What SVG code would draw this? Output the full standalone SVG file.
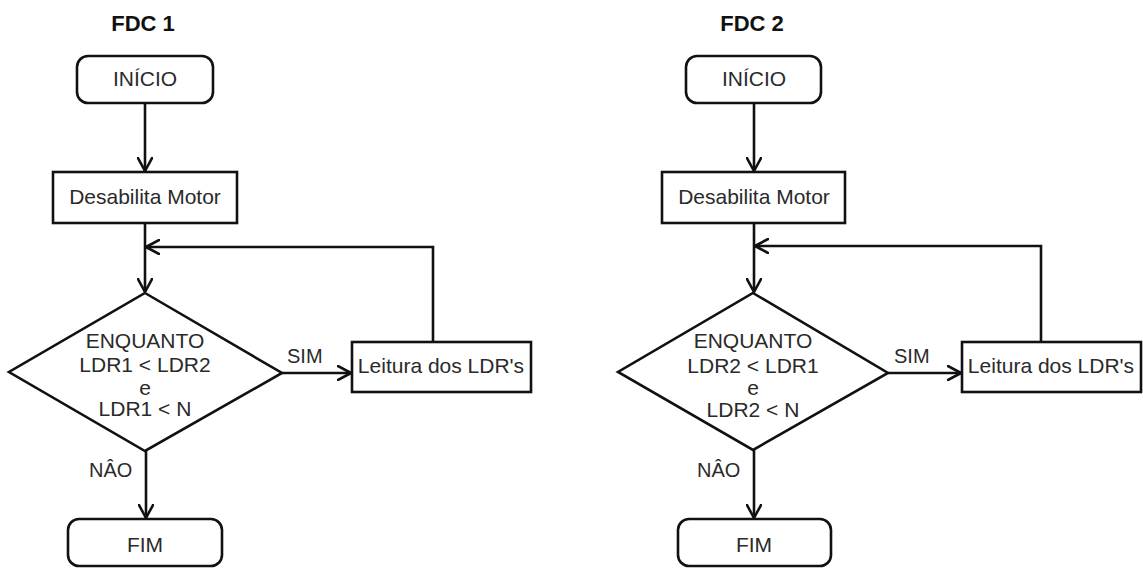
<svg xmlns="http://www.w3.org/2000/svg" width="1143" height="568" viewBox="0 0 1143 568">
  <style>
    .bg { fill: #ffffff; }
    .box { fill: #ffffff; stroke: #111; stroke-width: 2.6; }
    .edge { fill: none; stroke: #111; stroke-width: 2.6; }
    .t { font-family: "Liberation Sans", Arial, sans-serif; font-size: 21px; fill: #2a2a2a; text-anchor: middle; }
    .lbl { font-family: "Liberation Sans", Arial, sans-serif; font-size: 20px; fill: #2a2a2a; }
    .title { font-family: "Liberation Sans", Arial, sans-serif; font-size: 22px; font-weight: bold; fill: #111; text-anchor: middle; }
  </style>
  <defs>
    <marker id="arrow" markerUnits="userSpaceOnUse" viewBox="0 0 16 16" refX="14" refY="8" markerWidth="16" markerHeight="16" orient="auto">
      <path d="M1,1 L14,8 L1,15" fill="none" stroke="#111" stroke-width="2.6" stroke-linejoin="round" stroke-linecap="round"/>
    </marker>
  </defs>

  <rect class="bg" x="0" y="0" width="1143" height="568"/>

  <!-- FDC 1 -->
  <text class="title" x="143" y="31">FDC 1</text>

  <g id="connectors-fdc1">
    <path class="edge" d="M145,103 L145,171" marker-end="url(#arrow)"/>
    <path class="edge" d="M145,223 L145,292" marker-end="url(#arrow)"/>
    <path class="edge" d="M433,342 L433,247 L146,247" marker-end="url(#arrow)"/>
    <path class="edge" d="M282,373 L351,373" marker-end="url(#arrow)"/>
    <path class="edge" d="M146,451 L146,518" marker-end="url(#arrow)"/>
    <text class="lbl" x="287" y="363">SIM</text>
    <text class="lbl" x="89" y="477">NÂO</text>
  </g>

  <g id="inicio1">
    <rect class="box" x="77" y="56" width="136" height="47" rx="11"/>
    <text class="t" x="145" y="86">INÍCIO</text>
  </g>
  <g id="desabilita1">
    <rect class="box" x="53" y="172" width="184" height="51"/>
    <text class="t" x="145" y="204">Desabilita Motor</text>
  </g>
  <g id="decisao1">
    <polygon class="box" points="145,293 282,373 145,451 9,372"/>
    <text class="t" x="145" y="348">ENQUANTO</text>
    <text class="t" x="145" y="372">LDR1 &lt; LDR2</text>
    <text class="t" x="145" y="395">e</text>
    <text class="t" x="145" y="416">LDR1 &lt; N</text>
  </g>
  <g id="leitura1">
    <rect class="box" x="352" y="342" width="179" height="50"/>
    <text class="t" x="441" y="373">Leitura dos LDR's</text>
  </g>
  <g id="fim1">
    <rect class="box" x="68" y="519" width="154" height="47" rx="11"/>
    <text class="t" x="145" y="552">FIM</text>
  </g>

  <!-- FDC 2 -->
  <text class="title" x="752" y="31">FDC 2</text>

  <g id="connectors-fdc2">
    <path class="edge" d="M754,103 L754,171" marker-end="url(#arrow)"/>
    <path class="edge" d="M754,223 L754,292" marker-end="url(#arrow)"/>
    <path class="edge" d="M1041,342 L1041,246 L755,246" marker-end="url(#arrow)"/>
    <path class="edge" d="M888,373 L961,373" marker-end="url(#arrow)"/>
    <path class="edge" d="M754,450 L754,518" marker-end="url(#arrow)"/>
    <text class="lbl" x="894" y="363">SIM</text>
    <text class="lbl" x="697" y="477">NÂO</text>
  </g>

  <g id="inicio2">
    <rect class="box" x="686" y="56" width="135" height="47" rx="11"/>
    <text class="t" x="754" y="86">INÍCIO</text>
  </g>
  <g id="desabilita2">
    <rect class="box" x="662" y="172" width="183" height="51"/>
    <text class="t" x="754" y="204">Desabilita Motor</text>
  </g>
  <g id="decisao2">
    <polygon class="box" points="753,293 888,373 753,450 618,372"/>
    <text class="t" x="753" y="348">ENQUANTO</text>
    <text class="t" x="753" y="373">LDR2 &lt; LDR1</text>
    <text class="t" x="753" y="395">e</text>
    <text class="t" x="753" y="417">LDR2 &lt; N</text>
  </g>
  <g id="leitura2">
    <rect class="box" x="962" y="342" width="179" height="50"/>
    <text class="t" x="1051" y="373">Leitura dos LDR's</text>
  </g>
  <g id="fim2">
    <rect class="box" x="678" y="519" width="153" height="47" rx="11"/>
    <text class="t" x="754" y="552">FIM</text>
  </g>
</svg>
